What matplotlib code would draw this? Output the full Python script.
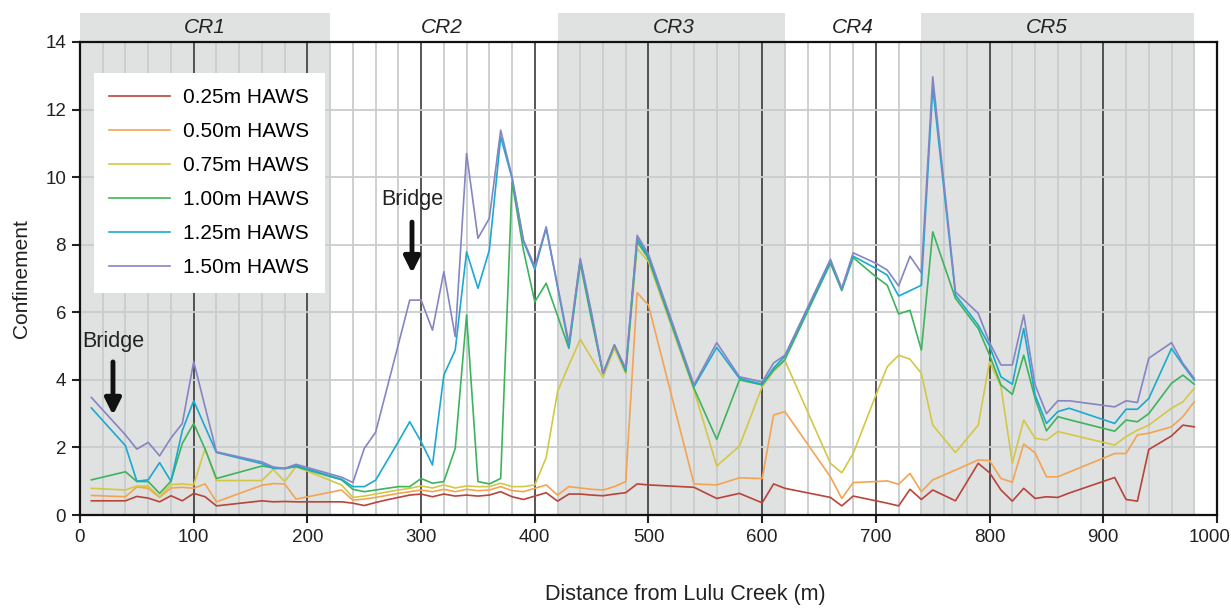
import matplotlib
matplotlib.use("Agg")
import matplotlib.pyplot as plt
from matplotlib.ticker import MultipleLocator

plt.rcParams['font.family'] = ['Liberation Sans', 'DejaVu Sans']

# distance along the reach (m)
distance = [10, 40, 50, 60, 70, 80, 90, 100, 110, 120,
            160, 170, 180, 190, 230, 240, 250, 260, 270, 280,
            290, 300, 310, 320, 330, 340, 350, 360, 370, 380,
            390, 400, 410, 420, 430, 440, 450, 460, 470, 480,
            490, 500, 540, 560, 580, 600, 610, 620, 660, 670,
            680, 700, 710, 720, 730, 740, 750, 770, 790, 800,
            810, 820, 830, 840, 850, 860, 870, 910, 920, 930,
            940, 960, 970, 980]

haws_025 = [0.42, 0.42, 0.55, 0.50, 0.39, 0.57, 0.42, 0.64, 0.54, 0.27,
            0.42, 0.39, 0.40, 0.39, 0.39, 0.35, 0.28, 0.37, 0.45, 0.52,
            0.59, 0.62, 0.54, 0.62, 0.56, 0.59, 0.56, 0.59, 0.69, 0.54,
            0.46, 0.56, 0.66, 0.41, 0.62, 0.62, 0.59, 0.57, 0.62, 0.66,
            0.92, 0.89, 0.82, 0.49, 0.64, 0.36, 0.92, 0.79, 0.52, 0.27,
            0.56, 0.42, 0.35, 0.27, 0.76, 0.46, 0.74, 0.42, 1.53, 1.25,
            0.74, 0.41, 0.79, 0.49, 0.54, 0.52, 0.65, 1.11, 0.46, 0.41,
            1.94, 2.34, 2.66, 2.61]

haws_050 = [0.58, 0.54, 0.83, 0.79, 0.52, 0.80, 0.82, 0.79, 0.92, 0.39,
            0.88, 0.93, 0.92, 0.47, 0.74, 0.44, 0.47, 0.52, 0.58, 0.64,
            0.69, 0.74, 0.69, 0.76, 0.69, 0.76, 0.72, 0.74, 0.84, 0.72,
            0.69, 0.79, 0.89, 0.59, 0.84, 0.80, 0.76, 0.74, 0.84, 0.99,
            6.58, 6.21, 0.92, 0.89, 1.10, 1.08, 2.96, 3.06, 1.13, 0.49,
            0.96, 0.99, 1.01, 0.91, 1.23, 0.69, 1.04, 1.33, 1.63, 1.61,
            1.08, 0.97, 2.10, 1.84, 1.13, 1.13, 1.27, 1.82, 1.82, 2.37,
            2.42, 2.61, 2.91, 3.35]

haws_075 = [0.79, 0.74, 0.86, 0.85, 0.54, 0.90, 0.92, 0.89, 1.97, 1.02,
            1.02, 1.35, 0.99, 1.43, 0.89, 0.52, 0.56, 0.62, 0.68, 0.74,
            0.79, 0.86, 0.80, 0.89, 0.80, 0.86, 0.84, 0.84, 0.94, 0.84,
            0.84, 0.89, 1.70, 3.65, 4.44, 5.20, 4.64, 4.07, 4.93, 4.19,
            7.89, 7.50, 3.70, 1.45, 2.04, 3.80, 4.25, 4.57, 1.53, 1.25,
            1.82, 3.55, 4.39, 4.73, 4.61, 4.19, 2.66, 1.85, 2.66, 4.54,
            3.80, 1.53, 2.81, 2.27, 2.22, 2.47, 2.39, 2.07, 2.32, 2.51,
            2.66, 3.16, 3.35, 3.75]

haws_100 = [1.04, 1.28, 0.99, 0.99, 0.64, 1.00, 2.12, 2.71, 1.95, 1.08,
            1.45, 1.40, 1.38, 1.43, 1.04, 0.76, 0.69, 0.74, 0.79, 0.84,
            0.84, 1.08, 0.94, 0.99, 1.97, 5.92, 0.99, 0.92, 1.08, 9.86,
            7.84, 6.31, 6.86, 5.90, 4.93, 7.45, 5.77, 4.19, 5.03, 4.24,
            8.09, 7.59, 3.75, 2.24, 4.00, 3.85, 4.29, 4.60, 7.45, 6.64,
            7.62, 7.05, 6.80, 5.95, 6.06, 4.88, 8.38, 6.41, 5.52, 4.73,
            3.85, 3.57, 4.73, 3.45, 2.49, 2.91, 2.82, 2.48, 2.81, 2.76,
            3.00, 3.90, 4.14, 3.87]

haws_125 = [3.17, 2.05, 1.00, 1.04, 1.55, 1.00, 2.50, 3.38, 2.61, 1.85,
            1.52, 1.38, 1.37, 1.46, 1.06, 0.84, 0.84, 1.03, 1.60, 2.17,
            2.76, 2.17, 1.48, 4.14, 4.88, 7.79, 6.71, 7.84, 11.19, 9.96,
            8.10, 7.27, 8.48, 6.75, 4.98, 7.55, 5.90, 4.19, 5.03, 4.29,
            8.19, 7.64, 3.80, 4.96, 4.04, 3.87, 4.35, 4.70, 7.50, 6.68,
            7.66, 7.30, 7.10, 6.48, 6.64, 6.80, 12.67, 6.51, 5.62, 5.00,
            4.09, 3.87, 5.52, 3.55, 2.71, 3.06, 3.16, 2.71, 3.13, 3.13,
            3.45, 4.93, 4.44, 3.99]

haws_150 = [3.48, 2.37, 1.95, 2.15, 1.75, 2.28, 2.71, 4.54, 3.20, 1.87,
            1.57, 1.42, 1.38, 1.50, 1.12, 0.96, 1.97, 2.45, 3.75, 5.05,
            6.36, 6.36, 5.47, 7.20, 5.28, 10.70, 8.19, 8.78, 11.39, 10.01,
            8.14, 7.35, 8.53, 6.80, 5.08, 7.59, 5.97, 4.19, 5.03, 4.34,
            8.28, 7.72, 3.85, 5.10, 4.09, 3.94, 4.50, 4.73, 7.57, 6.71,
            7.76, 7.45, 7.25, 6.78, 7.66, 7.17, 12.97, 6.60, 5.97, 5.10,
            4.44, 4.44, 5.92, 3.85, 3.00, 3.38, 3.38, 3.20, 3.38, 3.33,
            4.64, 5.10, 4.49, 4.04]

series_labels = ['0.25m HAWS', '0.50m HAWS', '0.75m HAWS',
                 '1.00m HAWS', '1.25m HAWS', '1.50m HAWS']
series_colors = ['#b8443a', '#f3a452', '#d2c846', '#3db45c', '#1aa9cf', '#8585c4']

x_ticks = list(range(0, 1001, 100))
x_tick_labels = [str(t) for t in x_ticks]

# confinement reaches: (start, end) of shaded ones, label positions
shaded_reaches = [(0, 220), (420, 620), (740, 980)]
reach_names = ['CR1', 'CR2', 'CR3', 'CR4', 'CR5']
reach_label_x = [110, 318, 522, 680, 850]

# bridge positions (m) and where the arrow sits
bridge_x = [29, 292]
bridge_arrow_top = [4.53, 8.67]
bridge_arrow_tip = [2.96, 7.16]
bridge_text_y = [5.15, 9.35]

fig = plt.figure(figsize=(12.31, 6.09), dpi=100)
ax = fig.add_axes([80 / 1231, 1 - 515 / 609, 1137 / 1231, 473 / 609])

band_top = 1 + 29.5 / 473
for x0, x1 in shaded_reaches:
    ax.axvspan(x0, x1, ymin=0, ymax=band_top, color='#e0e1e1', lw=0,
               zorder=0, clip_on=False)

ax.set_xlim(0, 1000)
ax.set_ylim(0, 14)
# last label is drawn separately below, shifted left so it fits the figure
ax.set_xticks(x_ticks, labels=x_tick_labels[:-1] + [''])
ax.xaxis.set_minor_locator(MultipleLocator(20))
ax.yaxis.set_major_locator(MultipleLocator(2))
ax.grid(which='minor', axis='x', color='#c8cdcd', lw=1.3, zorder=1)
ax.grid(which='major', axis='x', color='#3a3a3a', lw=1.2, zorder=1)
ax.grid(which='major', axis='y', color='#c8cdcd', lw=1.3, zorder=1)
ax.set_axisbelow(True)

for vals, lab, col in zip([haws_025, haws_050, haws_075, haws_100, haws_125, haws_150],
                          series_labels, series_colors):
    ax.plot(distance, vals, color=col, lw=1.2, label=lab, zorder=3)

for sp in ax.spines.values():
    sp.set_linewidth(1.6)
    sp.set_color('#111111')
    sp.set_zorder(4)

ax.tick_params(which='major', direction='out', length=6, width=1.5,
               labelsize=13.5, colors='#222222', pad=4)
ax.tick_params(which='minor', length=0)

ax.annotate(x_tick_labels[-1], xy=(x_ticks[-1], 0), xycoords=('data', 'axes fraction'),
            xytext=(-5, -10), textcoords='offset points', ha='center', va='top',
            fontsize=13.5, color='#222222', annotation_clip=False)

for name, xc in zip(reach_names, reach_label_x):
    ax.text(xc, 14 + 15 / 33.8, name, ha='center', va='center', fontsize=15,
            style='italic', color='#222222', clip_on=False)

for bx, top, tip, ty in zip(bridge_x, bridge_arrow_top, bridge_arrow_tip, bridge_text_y):
    ax.annotate('', xy=(bx, tip), xytext=(bx, top),
                arrowprops=dict(arrowstyle='-|>', lw=3.5, color='#111111',
                                mutation_scale=24, shrinkA=0, shrinkB=0),
                zorder=5)
    ax.text(bx, ty, 'Bridge', ha='center', va='center', fontsize=15.5, color='#222222')

leg = ax.legend(loc='upper left', bbox_to_anchor=(0.012, 0.935), borderaxespad=0,
                fontsize=15, frameon=True, fancybox=False, framealpha=1,
                edgecolor='white', handlelength=2.9, handletextpad=0.65,
                labelspacing=0.72, borderpad=0.75)
leg.get_frame().set_linewidth(0)
leg.set_zorder(6)

ax.set_xlabel('Distance from Lulu Creek (m)', fontsize=15.5, color='#222222')
ax.xaxis.set_label_coords((685 - 80) / 1137, -0.146)
ax.set_ylabel('Confinement', fontsize=15, color='#222222', labelpad=10)

fig.savefig('out.png', dpi=100)
